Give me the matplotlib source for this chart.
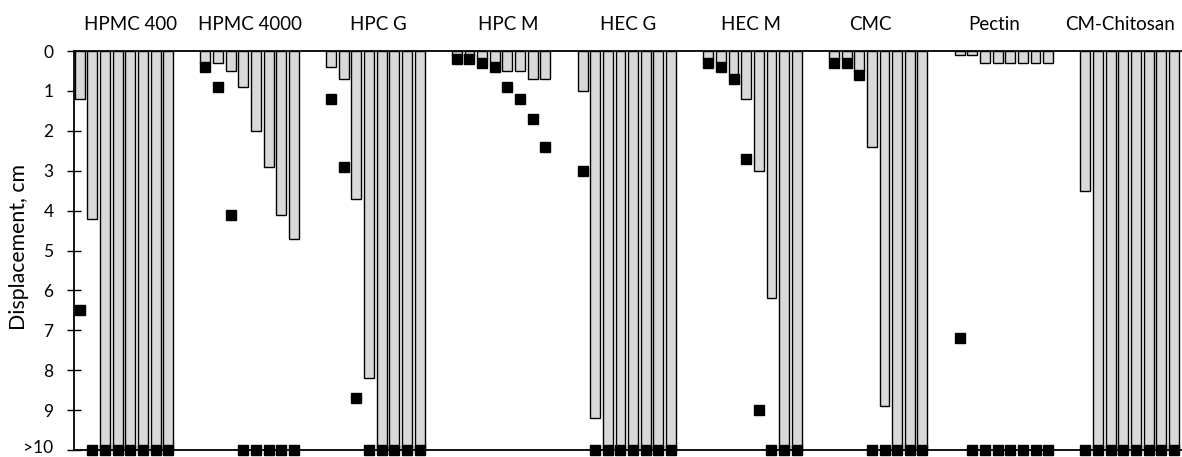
import matplotlib
matplotlib.use("Agg")
import matplotlib.pyplot as plt
import matplotlib.transforms as mtransforms
import numpy as np

plt.rcParams['font.family'] = ['Lato', 'DejaVu Sans']

categories = ["HPMC 400", "HPMC 4000", "HPC G", "HPC M", "HEC G", "HEC M",
              "CMC", "Pectin", "CM-Chitosan"]

# bar values (displacement, cm), 8 bars per group; 10 means ">10"
bar_values = [
    [1.2, 4.2, 10, 10, 10, 10, 10, 10],
    [0.3, 0.3, 0.5, 0.9, 2.0, 2.9, 4.1, 4.7],
    [0.4, 0.7, 3.7, 8.2, 10, 10, 10, 10],
    [0.1, 0.1, 0.2, 0.3, 0.5, 0.5, 0.7, 0.7],
    [1.0, 9.2, 10, 10, 10, 10, 10, 10],
    [0.2, 0.3, 0.6, 1.2, 3.0, 6.2, 10, 10],
    [0.2, 0.2, 0.5, 2.4, 8.9, 10, 10, 10],
    [0.1, 0.1, 0.3, 0.3, 0.3, 0.3, 0.3, 0.3],
    [3.5, 10, 10, 10, 10, 10, 10, 10],
]

# marker values (black squares)
marker_values = [
    [6.5, 10, 10, 10, 10, 10, 10, 10],
    [0.4, 0.9, 4.1, 10, 10, 10, 10, 10],
    [1.2, 2.9, 8.7, 10, 10, 10, 10, 10],
    [0.2, 0.2, 0.3, 0.4, 0.9, 1.2, 1.7, 2.4],
    [3.0, 10, 10, 10, 10, 10, 10, 10],
    [0.3, 0.4, 0.7, 2.7, 9.0, 10, 10, 10],
    [0.3, 0.3, 0.6, 10, 10, 10, 10, 10],
    [7.2, 10, 10, 10, 10, 10, 10, 10],
    [10, 10, 10, 10, 10, 10, 10, 10],
]

y_ticks = [0, 1, 2, 3, 4, 5, 6, 7, 8, 9, 10]
y_tick_labels = ["0", "1", "2", "3", "4", "5", "6", "7", "8", "9", ">10"]

# layout: small horizontal shifts of the group titles (category units)
label_shift = [0.05, 0.0, 0.02, 0.06, 0.01, -0.01, -0.065, -0.08, -0.077]

W, H = 1182, 457
fig = plt.figure(figsize=(W / 100, H / 100), dpi=100)
ax = fig.add_axes([74 / W, 1 - 450 / H, (1182 - 74) / W, (450 - 51) / H])

n_bars = 8
step = 0.1006
bar_w = 0.079
for g, (bv, mv) in enumerate(zip(bar_values, marker_values)):
    xs = g + (np.arange(n_bars) - (n_bars - 1) / 2) * step
    ax.bar(xs, bv, width=bar_w, color="#d9d9d9", edgecolor="black",
           linewidth=1.0, zorder=2)
    ax.plot(xs, mv, linestyle="none", marker="s", markersize=6.5,
            color="black", zorder=4, clip_on=False)

ax.set_xlim(-0.398, 8.417)
ax.set_ylim(10, 0)

ax.set_yticks(y_ticks)
ax.set_yticklabels(y_tick_labels, fontsize=12.5)
ax.tick_params(axis="y", direction="inout", length=9.4, width=1.0, pad=10,
               colors="black")
# nudge the last (">10") label up a little so it stays inside the figure
last = ax.get_yticklabels()[-1]
last.set_transform(last.get_transform() +
                   mtransforms.ScaledTranslation(0, 3.5 / 100, fig.dpi_scale_trans))

ax.xaxis.tick_top()
ax.set_xticks(np.arange(len(categories)) + np.array(label_shift))
ax.set_xticklabels(categories, fontsize=13.5)
ax.tick_params(axis="x", length=0, pad=13)

for s in ["top", "bottom", "left"]:
    ax.spines[s].set_linewidth(1.3)
    ax.spines[s].set_color("black")
    ax.spines[s].set_zorder(3)
ax.spines["right"].set_visible(False)

ylab = ax.set_ylabel("Displacement, cm", fontsize=12)
ax.yaxis.set_label_coords(-0.0406, 0.51)
fig.canvas.draw()
bb = ylab.get_window_extent()
ylab.set_fontsize(min(16, 12 * 165 / bb.height))

fig.savefig("out.png", dpi=100)
